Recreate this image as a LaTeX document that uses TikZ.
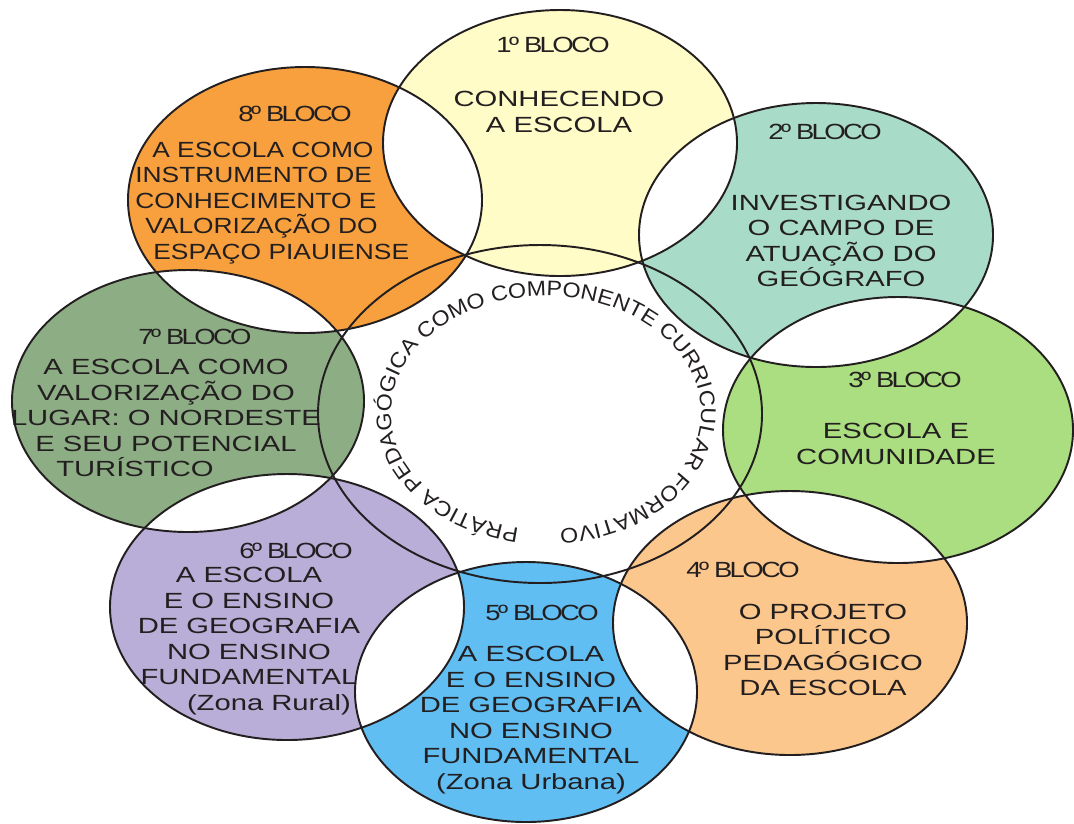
\documentclass[tikz,border=0pt]{standalone}
\usepackage{fontspec}
\setmainfont[FakeStretch=1.33]{Liberation Sans}
\newfontfamily\blocofont[FakeStretch=1.25,LetterSpace=-12]{Liberation Sans}
\newfontfamily\estreitofont[FakeStretch=1.2]{Liberation Sans}
\newfontfamily\arcofont[FakeStretch=1.1]{Liberation Sans}
\usetikzlibrary{decorations.text}

\definecolor{tinta}{HTML}{231F20}
\definecolor{amarelo}{HTML}{FFFCC8}
\definecolor{verdeagua}{HTML}{A8DBC8}
\definecolor{verdeclaro}{HTML}{AADE80}
\definecolor{pessego}{HTML}{FBC78D}
\definecolor{azul}{HTML}{60BEF2}
\definecolor{lilas}{HTML}{B8AED7}
\definecolor{verdeoliva}{HTML}{8DAD85}
\definecolor{laranja}{HTML}{F8A03D}

\tikzset{
  titulo/.style={text=tinta, inner sep=0pt, font=\blocofont\fontsize{12.5pt}{14.5pt}\selectfont},
  texto/.style={text=tinta, inner sep=0pt, align=center, font=\fontsize{12.5pt}{14.5pt}\selectfont},
  contorno/.style={draw=tinta, line width=1.1pt}
}

\begin{document}
\begin{tikzpicture}[x=0.02cm, y=-0.02cm]
\useasboundingbox (0,0) rectangle (1074,823);

\def\firstbloco{(560,143) ellipse (177 and 133)}
\def\secondbloco{(816,235) ellipse (177 and 132)}
\def\thirdbloco{(898,430) ellipse (175 and 133)}
\def\fourthbloco{(790,623) ellipse (177 and 132)}
\def\fifthbloco{(526,692) ellipse (171 and 130)}
\def\sixthbloco{(287,607) ellipse (177 and 133)}
\def\seventhbloco{(188,401) ellipse (176 and 131)}
\def\eighthbloco{(305,200) ellipse (177 and 133)}
\def\centerring{(540,414) ellipse (222 and 169)}

\fill[amarelo] \firstbloco;
\fill[verdeagua] \secondbloco;
\fill[verdeclaro] \thirdbloco;
\fill[pessego] \fourthbloco;
\fill[azul] \fifthbloco;
\fill[lilas] \sixthbloco;
\fill[verdeoliva] \seventhbloco;
\fill[laranja] \eighthbloco;

\begin{scope}
\clip \firstbloco;
\fill[white] \secondbloco;
\end{scope}

\begin{scope}
\clip \secondbloco;
\fill[white] \thirdbloco;
\end{scope}

\begin{scope}
\clip \thirdbloco;
\fill[white] \fourthbloco;
\end{scope}

\begin{scope}
\clip \fourthbloco;
\fill[white] \fifthbloco;
\end{scope}

\begin{scope}
\clip \fifthbloco;
\fill[white] \sixthbloco;
\end{scope}

\begin{scope}
\clip \sixthbloco;
\fill[white] \seventhbloco;
\end{scope}

\begin{scope}
\clip \seventhbloco;
\fill[white] \eighthbloco;
\end{scope}

\begin{scope}
\clip \eighthbloco;
\fill[white] \firstbloco;
\end{scope}

\draw[contorno] \firstbloco;
\draw[contorno] \secondbloco;
\draw[contorno] \thirdbloco;
\draw[contorno] \fourthbloco;
\draw[contorno] \fifthbloco;
\draw[contorno] \sixthbloco;
\draw[contorno] \seventhbloco;
\draw[contorno] \eighthbloco;
\draw[contorno] \centerring;

\coordinate (meio) at (546,413);
\path[decorate, decoration={text along path, text align={fit to path},
  text={|\arcofont\fontsize{12pt}{13pt}\selectfont\color{tinta}|PRÁTICA PEDAGÓGICA COMO COMPONENTE CURRICULAR FORMATIVO}}]
  (meio) ++(260:3.1cm and 2.34cm) arc[start angle=260, end angle=-85, x radius=3.1cm, y radius=2.34cm];

\node[titulo] (t1) at (553,45) {1º BLOCO};
\node[texto] (c1) at (559,112) {CONHECENDO\\A ESCOLA};

\node[titulo] (t2) at (825,132) {2º BLOCO};
\node[texto] (c2) at (841,241) {INVESTIGANDO\\O CAMPO DE\\ATUAÇÃO DO\\GEÓGRAFO};

\node[titulo] (t3) at (905,380) {3º BLOCO};
\node[texto] (c3) at (896,444) {ESCOLA E\\COMUNIDADE};

\node[titulo] (t4) at (743,570) {4º BLOCO};
\node[texto] (c4) at (823,650) {O PROJETO\\POLÍTICO\\PEDAGÓGICO\\DA ESCOLA};

\node[titulo] (t5) at (542,613) {5º BLOCO};
\node[texto] (c5) at (531,720) {A ESCOLA\\E O ENSINO\\DE GEOGRAFIA\\NO ENSINO\\FUNDAMENTAL\\(Zona Urbana)};

\node[titulo] (t6) at (296,551) {6º BLOCO};
\node[texto] (c6) at (249,641) {A ESCOLA\\E O ENSINO\\DE GEOGRAFIA\\NO ENSINO\\FUNDAMENTAL\\\hspace*{0.8cm}(Zona Rural)};

\node[titulo] (t7) at (195,337) {7º BLOCO};
\node[texto] (c7) at (166,418) {A ESCOLA COMO\\VALORIZAÇÃO DO\\LUGAR: O NORDESTE\\E SEU POTENCIAL\\TURÍSTICO\hspace*{1.24cm}};

\node[titulo] (t8) at (295,114) {8º BLOCO};
\node[texto, align=left, anchor=west, font=\estreitofont\fontsize{12.5pt}{14.5pt}\selectfont] (c8) at (135,203) {\hspace*{0.34cm}A ESCOLA COMO\\INSTRUMENTO DE\\CONHECIMENTO E\\\hspace*{0.2cm}VALORIZAÇÃO DO\\\hspace*{0.36cm}ESPAÇO PIAUIENSE};

\end{tikzpicture}
\end{document}
